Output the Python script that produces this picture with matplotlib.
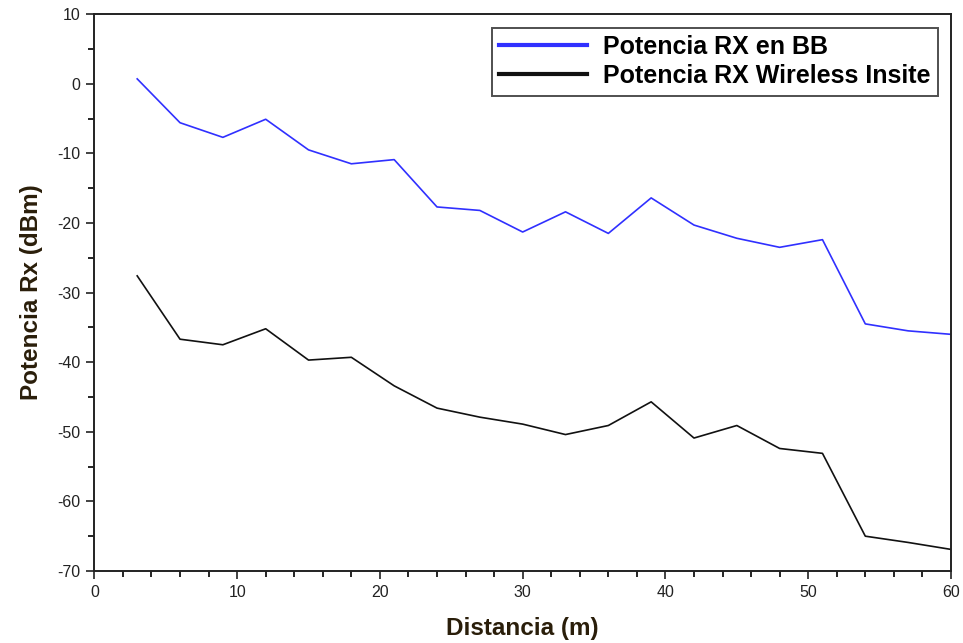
import matplotlib
matplotlib.use("Agg")
import matplotlib.pyplot as plt
from matplotlib.ticker import MultipleLocator

# Distance (m) and received power (dBm)
distancia = [3, 6, 9, 12, 15, 18, 21, 24, 27, 30, 33, 36, 39, 42, 45, 48, 51, 54, 57, 60]
potencia_bb = [0.7, -5.6, -7.7, -5.1, -9.5, -11.5, -10.9, -17.7, -18.2, -21.3,
               -18.4, -21.5, -16.4, -20.3, -22.2, -23.5, -22.4, -34.5, -35.5, -36.0]
potencia_wi = [-27.6, -36.7, -37.5, -35.2, -39.7, -39.3, -43.4, -46.6, -47.9, -48.9,
               -50.4, -49.1, -45.7, -50.9, -49.1, -52.4, -53.1, -65.0, -65.9, -66.9]
nombres = ["Potencia RX en BB", "Potencia RX Wireless Insite"]

plt.rcParams["font.family"] = ["Liberation Sans", "DejaVu Sans"]
plt.rcParams["axes.unicode_minus"] = False

fig = plt.figure(figsize=(9.63, 6.43), dpi=100)
ax = fig.add_axes([0.098, 0.112, 0.8895, 0.866])

ax.plot(distancia, potencia_bb, color="#3030ff", lw=1.2, label=nombres[0])
ax.plot(distancia, potencia_wi, color="#111111", lw=1.2, label=nombres[1])

ax.set_xlim(0, 60)
ax.set_ylim(-70, 10)
ax.xaxis.set_major_locator(MultipleLocator(10))
ax.xaxis.set_minor_locator(MultipleLocator(2))
ax.yaxis.set_major_locator(MultipleLocator(10))
ax.yaxis.set_minor_locator(MultipleLocator(5))
ax.tick_params(which="major", direction="out", length=6, width=1.2,
               labelsize=11.5, colors="#222222", pad=4)
ax.tick_params(which="minor", direction="out", length=4, width=1.2)
for sp in ax.spines.values():
    sp.set_linewidth(1.4)
    sp.set_color("#222222")

ax.set_xlabel("Distancia (m)", fontsize=17.5, fontweight="bold", color="#2a1e0a", labelpad=12)
ax.set_ylabel("Potencia Rx (dBm)", fontsize=17.5, fontweight="bold", color="#2a1e0a", labelpad=10)

leg = ax.legend(loc="upper right", bbox_to_anchor=(0.985, 0.976),
                prop={"weight": "bold", "size": 18}, frameon=True, fancybox=False,
                handlelength=3.5, handletextpad=0.65, borderpad=0.3, labelspacing=0.2,
                borderaxespad=0.0)
leg.get_frame().set_edgecolor("#222222")
leg.get_frame().set_linewidth(1.4)
for line in leg.get_lines():
    line.set_linewidth(3.0)

fig.savefig("out.png", dpi=100)
